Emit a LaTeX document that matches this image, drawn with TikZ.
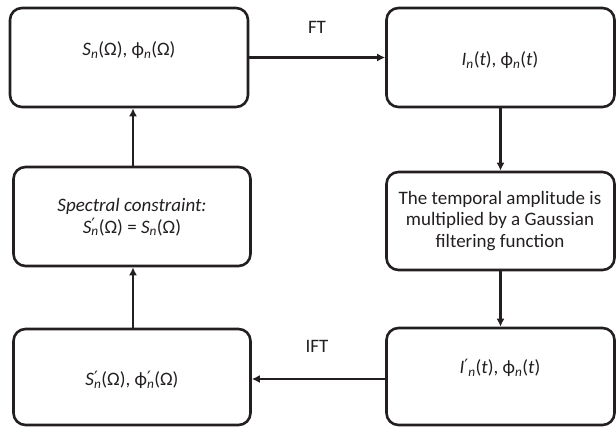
\documentclass[tikz,border=0pt]{standalone}
\usepackage{fontspec}
\setmainfont{Carlito}
\newfontfamily\primefont{DejaVu Sans}
\usetikzlibrary{arrows.meta}
\definecolor{ink}{RGB}{35,31,32}
\newcommand{\ssub}[1]{\textsubscript{\itshape #1}}
\newcommand{\pr}{{\primefont\fontsize{17}{17}\selectfont\raisebox{0.25ex}{′}}}
\newcommand{\prs}{\rlap{\pr}}
\begin{document}
\begin{tikzpicture}[x=1pt,y=-1pt,
  box/.style={draw=ink,line width=2.6pt,rounded corners=12pt,inner sep=0pt},
  txt/.style={text=ink,font=\fontsize{19}{21.5}\selectfont,align=center,inner sep=0pt},
  conn/.style={draw=ink,line width=2.6pt,-{Latex[length=8pt,width=8pt]}}]
\useasboundingbox (0,0) rectangle (616,427);
\node[box,minimum width=238pt,minimum height=99pt] (tl) at (129,57.5) {};
\node[box,minimum width=228pt,minimum height=99pt] (tr) at (500.5,57.5) {};
\node[box,minimum width=237pt,minimum height=99pt] (ml) at (132,216.5) {};
\node[box,minimum width=228pt,minimum height=98pt] (mr) at (500.5,221) {};
\node[box,minimum width=237pt,minimum height=96pt] (bl) at (132,377) {};
\node[box,minimum width=228pt,minimum height=97pt] (br) at (500.5,376.5) {};
\node[txt] (tlt) at (129,50) {\textit{S}\ssub{n}(Ω), ϕ\ssub{n}(Ω)};
\node[txt] (trt) at (500,60) {\textit{I}\ssub{n}(\textit{t}), ϕ\ssub{n}(\textit{t})};
\node[txt] (mlt) at (132,217) {\textit{Spectral constraint:}\\\textit{S}\prs\ssub{n}(Ω) = \textit{S}\ssub{n}(Ω)};
\node[txt] (mrt) at (500,221) {The temporal amplitude is\\multiplied by a Gaussian\\filtering function};
\node[txt] (blt) at (132,380) {\textit{S}\prs\ssub{n}(Ω), ϕ\prs\ssub{n}(Ω)};
\node[txt] (brt) at (500,368) {\textit{I}\pr\ssub{n}(\textit{t}), ϕ\ssub{n}(\textit{t})};
\node[txt] (ft) at (317,27) {FT};
\node[txt] (ift) at (317,346) {IFT};
\draw[conn] (tl.east) -- (tr.west);
\draw[conn] (tr.south) -- (mr.north);
\draw[conn] (mr.south) -- (br.north);
\draw[conn] (br.west |- 0,379) -- (bl.east |- 0,379);
\draw[conn] (bl.north -| 133,0) -- (ml.south -| 133,0);
\draw[conn] (ml.north -| 133,0) -- (tl.south -| 133,0);
\end{tikzpicture}
\end{document}
